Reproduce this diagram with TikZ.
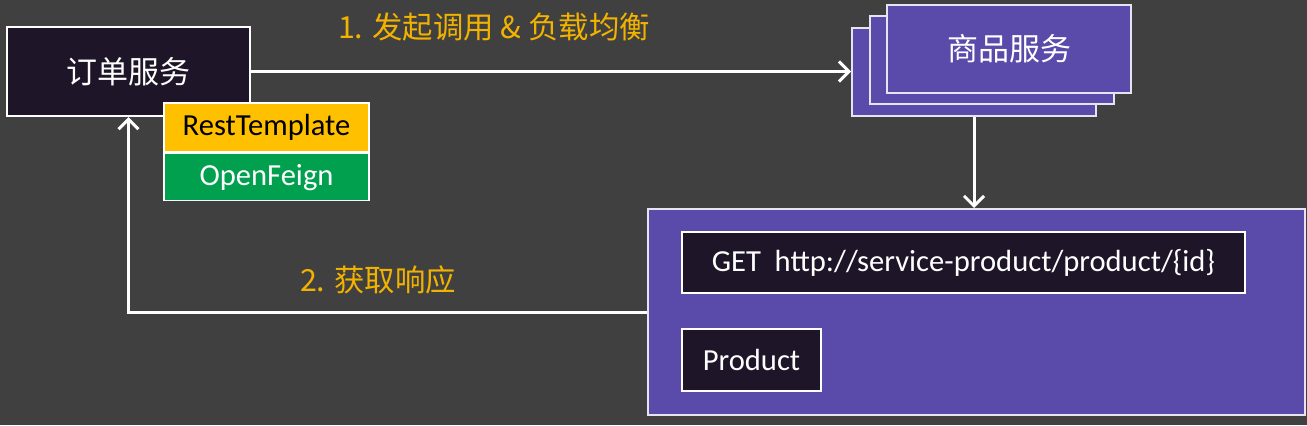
\documentclass[tikz,border=0pt]{standalone}
\usepackage{fontspec}
\setmainfont{Carlito}
\newfontfamily\zhfont{Noto Sans CJK SC}
\usetikzlibrary{arrows.meta,positioning}
\definecolor{bgcol}{HTML}{404040}
\definecolor{inkbox}{HTML}{1E1628}
\definecolor{svcpurple}{HTML}{5A4AAA}
\definecolor{tplyellow}{HTML}{FFC000}
\definecolor{feigngreen}{HTML}{00A04F}
\definecolor{steporange}{HTML}{F2B200}

\begin{document}
\begin{tikzpicture}[x=0.5pt,y=-0.5pt,>={Straight Barb[length=5pt,width=10pt]},
 inkbox/.style={draw=white,line width=1pt,fill=inkbox,text=white,inner sep=0pt},
 svcbox/.style={draw=white!85!svcpurple,line width=1pt,fill=svcpurple,text=white,inner sep=0pt,
   minimum width=122pt,minimum height=44pt},
 tplbox/.style={draw=white,line width=0.8pt,inner sep=0pt,minimum width=102.5pt,
   font=\fontsize{15.3}{18}\selectfont},
 steplabel/.style={text=steporange,font=\zhfont\fontsize{15.2}{18}\selectfont},
 flow/.style={->,draw=white,line width=1.5pt}]
\fill[bgcol] (0,0) rectangle (1307,425);

% caller side
\node[inkbox,minimum width=121.5pt,minimum height=44.5pt,font=\zhfont\fontsize{15.5}{18}\selectfont]
  (order) at (128.5,71.5) {订单服务};
\node[tplbox,fill=tplyellow,text=black,minimum height=24.5pt] (rest) at (266.5,127.5) {RestTemplate};
\node[tplbox,fill=feigngreen,text=white,minimum height=23.5pt,below=0pt of rest] (feign) {OpenFeign};

% provider instances
\foreach \k in {2,1}
  \node[svcbox] (svc\k) at ({1009-17.5*\k},{48.5+11.5*\k}) {};
\node[svcbox,font=\zhfont\fontsize{15.5}{18}\selectfont] (svc0) at (1009,48.5) {商品服务};

% request handled by provider
\node[draw=white!85!svcpurple,line width=1pt,fill=svcpurple,minimum width=328.5pt,minimum height=103pt]
  (call) at (976.5,312) {};
\node[inkbox,minimum width=281.5pt,minimum height=30.5pt,font=\fontsize{15.3}{18}\selectfont]
  (get) at (963.5,262.5) {GET\ \ http://service-product/product/\{id\}};
\node[inkbox,minimum width=69.5pt,minimum height=31pt,font=\fontsize{15.3}{18}\selectfont]
  (prod) at (751.5,360) {Product};

% arrows
\draw[flow] (order.east) -- (svc2.west);
\draw[flow] (svc2.south) -- (svc2.south |- call.north);
\draw[flow] (call.west) -| (order.south);

\node[steplabel] (req) at (494,27) {1. 发起调用 \& 负载均衡};
\node[steplabel] (resp) at (378,280) {2. 获取响应};
\end{tikzpicture}
\end{document}
